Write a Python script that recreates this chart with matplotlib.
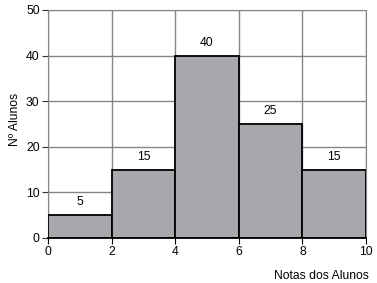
import matplotlib
matplotlib.use("Agg")
import matplotlib.pyplot as plt

bin_edges = [0, 2, 4, 6, 8, 10]
counts = [5, 15, 40, 25, 15]
x_ticks = [0, 2, 4, 6, 8, 10]
y_ticks = [0, 10, 20, 30, 40, 50]

plt.rcParams['font.family'] = ['Liberation Sans', 'DejaVu Sans']
fs = 8.7
fig = plt.figure(figsize=(3.77, 2.83), dpi=100)
ax = fig.add_axes([48/377, 1-238/283, (366-48)/377, (238-10)/283])

lefts = bin_edges[:-1]
widths = [bin_edges[i+1]-bin_edges[i] for i in range(len(counts))]
bars = ax.bar(lefts, counts, width=widths, align='edge', color='#a7a8ab',
              edgecolor='black', linewidth=1.3, zorder=3)
for b, c in zip(bars, counts):
    ax.annotate(str(c), (b.get_x()+b.get_width()/2, c), xytext=(0, 5),
                textcoords='offset points', ha='center', va='bottom', fontsize=fs)

ax.set_xlim(0, 10)
ax.set_ylim(0, 50)
ax.set_xticks(x_ticks)
ax.set_yticks(y_ticks)
ax.grid(True, color='#858585', linewidth=1.0, zorder=0)
for s in ['top', 'right', 'left']:
    ax.spines[s].set_color('#858585')
ax.spines['bottom'].set_color('black')
ax.spines['bottom'].set_linewidth(1.3)
ax.spines['bottom'].set_zorder(4)
ax.tick_params(axis='both', labelsize=fs, length=4, direction='out', pad=2)
ax.tick_params(axis='y', colors='#333333', labelcolor='black')
ax.tick_params(axis='x', colors='black')
ax.set_ylabel('Nº Alunos', fontsize=fs)
ax.yaxis.set_label_coords(-0.085, 0.52)
ax.text(1.01, -0.14, 'Notas dos Alunos', transform=ax.transAxes, ha='right', va='top', fontsize=fs)

fig.savefig('out.png', dpi=100)
